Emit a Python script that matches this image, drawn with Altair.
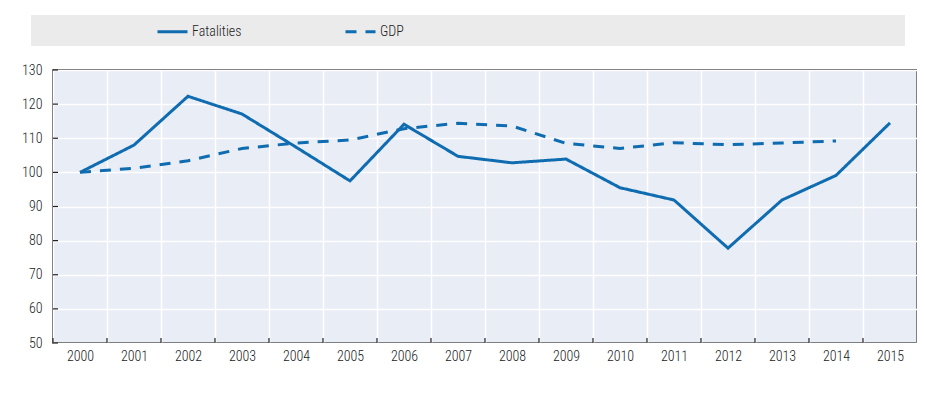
import altair as alt
import pandas as pd

years = ["2000", "2001", "2002", "2003", "2004", "2005", "2006", "2007",
         "2008", "2009", "2010", "2011", "2012", "2013", "2014", "2015"]
fatalities = [100, 108.0, 122.3, 117.1, 107.4, 97.5, 114.1, 104.7,
              102.8, 103.9, 95.5, 91.9, 77.8, 91.9, 99.1, 114.5]
gdp = [100, 101.2, 103.4, 107.0, 108.6, 109.5, 112.8, 114.4,
       113.6, 108.5, 107.0, 108.7, 108.1, 108.6, 109.2, None]
series_names = ["Fatalities", "GDP"]
y_ticks = [50, 60, 70, 80, 90, 100, 110, 120, 130]

rows = []
for i, yr in enumerate(years):
    rows.append({"Year": yr, "Series": "Fatalities", "Value": fatalities[i]})
    if gdp[i] is not None:
        rows.append({"Year": yr, "Series": "GDP", "Value": gdp[i]})
df = pd.DataFrame(rows)

BLUE = "#0f6cb0"
FONT = "Roboto Condensed, Liberation Sans, Arial, sans-serif"
TXT = "#222222"
FS = 14
FW = 300

xscale = alt.Scale(type="band", domain=years, paddingInner=0, paddingOuter=0)
yscale = alt.Scale(domain=[50, 130], nice=False, zero=False)

x_axis = alt.Axis(title=None, tickBand="extent", labelAngle=0, ticks=False,
                  domain=False, grid=True, gridColor="white", gridWidth=1.5,
                  gridOpacity=1, labelPadding=6, labelFontSize=FS,
                  labelFontWeight=FW, labelColor=TXT, labelFont=FONT)
y_axis = alt.Axis(title=None, values=y_ticks, ticks=False, domain=False,
                  grid=True, gridColor="white", gridWidth=1.5, gridOpacity=1,
                  labelPadding=11, labelFontSize=FS, labelFontWeight=FW,
                  labelColor=TXT, labelFont=FONT)

legend_def = dict(
    title=None, orient="none", legendX=103, legendY=-55,
    direction="horizontal", symbolType="stroke", symbolSize=900,
    symbolStrokeWidth=3, labelFontSize=FS, labelFontWeight=FW,
    labelColor=TXT, labelFont=FONT, columnPadding=97, labelOffset=3,
    padding=0,
)

bg = alt.Chart(pd.DataFrame({"k": [0]})).mark_rect(color="#ebebeb").encode(
    x=alt.value(-22), x2=alt.value(852), y=alt.value(-55), y2=alt.value(-24)
)

lines = alt.Chart(df).mark_line(strokeWidth=3, strokeCap="butt").encode(
    x=alt.X("Year:O", scale=xscale, bandPosition=0.5, axis=x_axis),
    y=alt.Y("Value:Q", scale=yscale, axis=y_axis),
    color=alt.Color("Series:N",
                    scale=alt.Scale(domain=series_names, range=[BLUE, BLUE]),
                    legend=alt.Legend(**legend_def)),
    strokeDash=alt.StrokeDash("Series:N",
                              scale=alt.Scale(domain=series_names,
                                              range=[[1, 0], [11, 9]]),
                              legend=alt.Legend(**legend_def)),
)

yticks = alt.Chart(pd.DataFrame({"Value": y_ticks})).mark_rule(
    color=TXT, strokeWidth=1.2
).encode(
    y=alt.Y("Value:Q", scale=yscale, axis=y_axis),
    x=alt.value(0), x2=alt.value(5),
)

xticks = alt.Chart(pd.DataFrame({"Year": years})).mark_rule(
    color=TXT, strokeWidth=1.2
).encode(
    x=alt.X("Year:O", scale=xscale, bandPosition=0, axis=x_axis),
    y=alt.value(268), y2=alt.value(273),
)

chart = alt.layer(bg, lines, yticks, xticks).properties(
    width=864, height=273,
    autosize=alt.AutoSizeParams(type="none"),
    padding={"left": 45, "top": 62, "right": 0, "bottom": 30},
).configure(
    font=FONT
).configure_view(
    fill="#e9edf5", stroke="#222222", strokeWidth=1.5
)

chart.save("out.html", embed_options={"renderer": "svg", "actions": False})
